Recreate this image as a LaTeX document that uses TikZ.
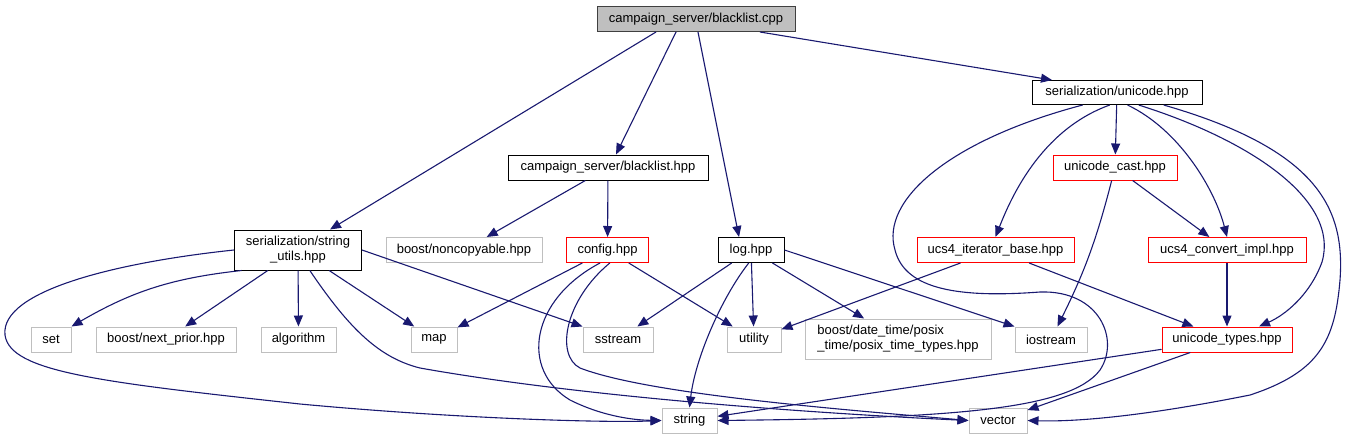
\documentclass[tikz,border=0pt]{standalone}
\usepackage{fontspec}
\setmainfont{Liberation Sans}
\usetikzlibrary{arrows.meta}
\definecolor{Edge}{HTML}{191970}
\definecolor{Frame}{HTML}{404040}
\definecolor{Ext}{HTML}{BFBFBF}
\definecolor{Bad}{HTML}{FF0000}
\definecolor{Root}{HTML}{BFBFBF}
\tikzset{file/.style={draw=black,fill=white,line width=1pt,minimum height=25pt,inner sep=0pt,align=center,font=\fontsize{13}{15}\selectfont},
root/.style={file,fill=Root,draw=Frame},
bad/.style={file,draw=Bad},
ext/.style={file,draw=Ext},
inc/.style={-{Triangle[length=11pt,width=9pt]},line width=1.1pt,draw=Edge}}

\begin{document}
\begin{tikzpicture}[x=1pt,y=-1pt]
\useasboundingbox (0,0) rectangle (1348,440);
% files of the graph
\node[root,minimum width=198pt,minimum height=25pt] (cpp) at (696,19) {campaign\_server/blacklist.cpp};
\node[file,minimum width=170pt,minimum height=24pt] (uni) at (1117,92.5) {serialization/unicode.hpp};
\node[file,minimum width=200pt] (bl) at (608,167.5) {campaign\_server/blacklist.hpp};
\node[bad,minimum width=124pt] (ucast) at (1115,167.5) {unicode\_cast.hpp};
\node[file,minimum width=127pt,minimum height=40pt] (su) at (298,250) {serialization/string\\\_utils.hpp};
\node[ext,minimum width=156pt] (nc) at (464,250) {boost/noncopyable.hpp};
\node[bad,minimum width=82pt] (cfg) at (607.5,250) {config.hpp};
\node[file,minimum width=66pt] (log) at (751,250) {log.hpp};
\node[bad,minimum width=157pt] (ucsit) at (995.5,250) {ucs4\_iterator\_base.hpp};
\node[bad,minimum width=158pt] (ucscv) at (1227,250) {ucs4\_convert\_impl.hpp};
\node[ext,minimum width=40pt] (set) at (51,339.5) {set};
\node[ext,minimum width=140pt] (np) at (166,339.5) {boost/next\_prior.hpp};
\node[ext,minimum width=75pt] (alg) at (298.5,339.5) {algorithm};
\node[ext,minimum width=46pt] (map) at (434,339.5) {map};
\node[ext,minimum width=70pt] (ss) at (618,339.5) {sstream};
\node[ext,minimum width=54pt] (util) at (754,339.5) {utility};
\node[ext,minimum width=186pt,minimum height=40pt,align=left] (posix) at (898,339) {boost/date\_time/posix\\\_time/posix\_time\_types.hpp};
\node[ext,minimum width=72pt] (ios) at (1051,339.5) {iostream};
\node[bad,minimum width=130pt] (utypes) at (1227,339.5) {unicode\_types.hpp};
\node[ext,minimum width=55pt] (str) at (689.5,420.5) {string};
\node[ext,minimum width=58pt] (vec) at (998,420.5) {vector};
% includes
\draw[inc] ([xshift=-40pt]cpp.south) -- ([xshift=32pt]su.north);
\draw[inc] ([xshift=-20pt]cpp.south) -- ([xshift=8pt]bl.north);
\draw[inc] ([xshift=2pt]cpp.south) -- ([xshift=-12pt]log.north);
\draw[inc] ([xshift=64pt]cpp.south) -- ([xshift=-65pt]uni.north);
\draw[inc] (bl) -- (nc);
\draw[inc] (bl) -- (cfg);
\draw[inc] (su.200) to[bend right=12] (set.north east);
\draw[inc] (su) -- (np);
\draw[inc] (su) -- (alg);
\draw[inc] (su) -- (map);
\draw[inc] (su.east) -- (ss.north west);
\draw[inc] (su.west) .. controls (120,262) and (0,290) .. (5,335) .. controls (10,372) and (100,382) .. (300,404) .. controls (450,418) and (600,423) .. (str.west);
\draw[inc] (su.-60) .. controls (350,330) and (380,358) .. (420,368) .. controls (600,400) and (850,415) .. (vec.west);
\draw[inc] (cfg) -- (map);
\draw[inc] (cfg.-120) .. controls (530,300) and (520,370) .. (570,400) .. controls (600,415) and (630,420) .. (str.west);
\draw[inc] (cfg.-80) .. controls (565,300) and (555,355) .. (580,368) .. controls (650,395) and (850,410) .. (vec.west);
\draw[inc] (cfg) -- (util);
\draw[inc] (log) -- (ss);
\draw[inc] (log.-100) .. controls (720,300) and (695,360) .. (str.north);
\draw[inc] (log) -- (util);
\draw[inc] (log) -- (posix);
\draw[inc] (log.east) -- (ios.north west);
\draw[inc] (uni) -- (ucast);
\draw[inc] (uni.-120) .. controls (1040,130) and (1010,200) .. (ucsit.north);
\draw[inc] (uni.-50) .. controls (1180,130) and (1215,190) .. (ucscv.north);
\draw[inc] (uni.-30) .. controls (1250,140) and (1340,200) .. (1322,262) .. controls (1310,295) and (1285,315) .. ([xshift=32pt]utypes.north);
\draw[inc] (uni.-15) .. controls (1320,150) and (1345,210) .. (1340,280) .. controls (1335,340) and (1320,372) .. (1250,395) .. controls (1150,415) and (1080,422) .. (vec.east);
\draw[inc] (uni.-160) .. controls (950,140) and (880,200) .. (895,250) .. controls (905,290) and (960,298) .. (1040,292) .. controls (1100,290) and (1120,340) .. (1100,370) .. controls (1070,410) and (950,418) .. (str.east);
\draw[inc] (ucast) to[bend left=6] (ios);
\draw[inc] (ucast) -- (ucscv);
\draw[inc] (ucsit) -- (util);
\draw[inc] (ucsit) -- (utypes);
\draw[inc] (ucscv) -- (utypes);
\draw[inc] (utypes) -- (str);
\draw[inc] (utypes) -- (vec);
\end{tikzpicture}
\end{document}
